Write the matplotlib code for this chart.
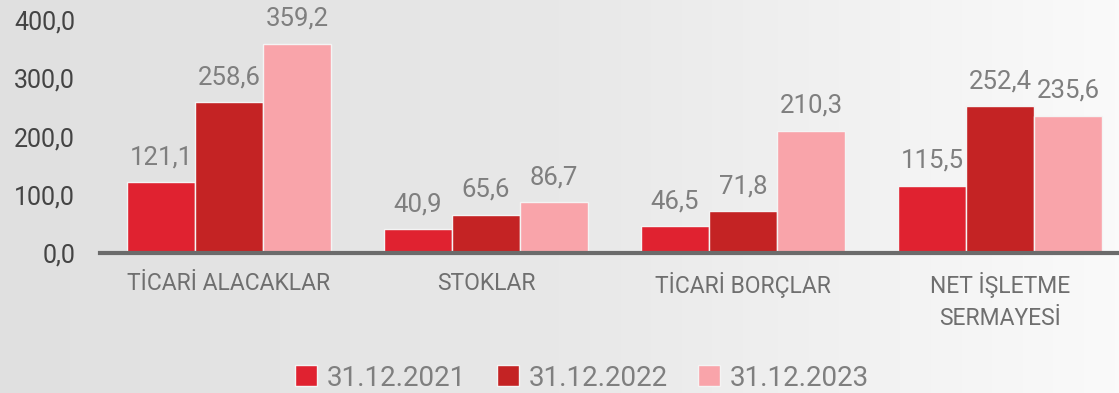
import numpy as np
import matplotlib.pyplot as plt
from matplotlib.ticker import FuncFormatter
from matplotlib.patches import Patch

plt.rcParams['font.family'] = ['Roboto', 'DejaVu Sans']

categories = ['TİCARİ ALACAKLAR', 'STOKLAR', 'TİCARİ BORÇLAR', 'NET İŞLETME\nSERMAYESİ']
series = ['31.12.2021', '31.12.2022', '31.12.2023']
values = [
    [121.1, 40.9, 46.5, 115.5],
    [258.6, 65.6, 71.8, 252.4],
    [359.2, 86.7, 210.3, 235.6],
]
colors = ['#e02230', '#c42324', '#f9a4aa']

fig = plt.figure(figsize=(11.19, 3.93), dpi=100)

# soft grey-to-white background
bg = fig.add_axes([0, 0, 1, 1], zorder=-1)
grad = np.linspace(0, 1, 256).reshape(1, -1)
bg.imshow(grad, aspect='auto', cmap=plt.matplotlib.colors.LinearSegmentedColormap.from_list(
    'bg', ['#e0e0e0', '#e8e8e8', '#fafafa']), extent=[0, 1, 0, 1])
bg.axis('off')

ax = fig.add_axes([100 / 1119, 140 / 393, 1 - 100 / 1119, 233 / 393])
ax.patch.set_alpha(0)

x = np.arange(len(categories))
w = 0.265
for i, (name, vals) in enumerate(zip(series, values)):
    pos = x + (i - 1) * w
    ax.bar(pos, vals, w, color=colors[i], edgecolor='#f4f4f4', linewidth=1, label=name, zorder=2)
    for px, v in zip(pos, vals):
        ax.text(px, v + 22, f'{v:.1f}'.replace('.', ','), ha='center', va='bottom',
                fontsize=18.5, color='#7f7f7f')

ax.set_ylim(0, 400)
ax.set_xlim(-0.502, 3.463)
ax.set_yticks([0, 100, 200, 300, 400])
ax.yaxis.set_major_formatter(FuncFormatter(lambda v, p: f'{v:.1f}'.replace('.', ',')))
ax.tick_params(axis='y', length=0, pad=18, labelsize=18, labelcolor='#444444')
ax.set_xticks(x)
ax.set_xticklabels(categories, fontsize=16.5, color='#6f6f6f', linespacing=1.5)
ax.tick_params(axis='x', length=0, pad=14)

for s in ['top', 'right', 'left']:
    ax.spines[s].set_visible(False)
ax.spines['bottom'].set_color('#6b6b6b')
ax.spines['bottom'].set_linewidth(3)

handles = [Patch(facecolor=c, edgecolor='#f4f4f4') for c in colors]
fig.legend(handles, series, loc='center', bbox_to_anchor=(582 / 1119, 1 - 378 / 393), ncol=3,
           frameon=False, fontsize=20, labelcolor='#7f7f7f', handlelength=0.8, handleheight=0.8,
           handletextpad=0.35, columnspacing=1.1)

fig.savefig('out.png', dpi=100)
